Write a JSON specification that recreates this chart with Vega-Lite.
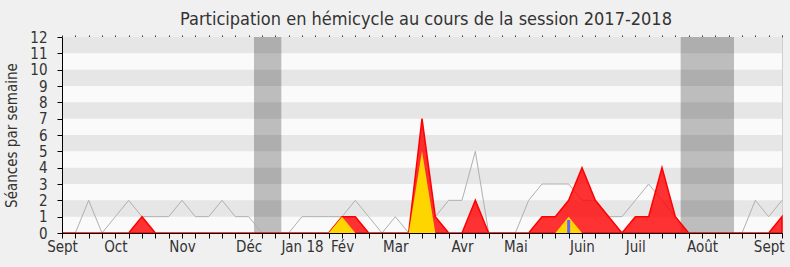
{
  "$schema": "https://vega.github.io/schema/vega-lite/v6.json",
  "width": 720,
  "height": 196,
  "autosize": {"type": "none"},
  "padding": {"left": 62, "top": 37, "right": 8, "bottom": 34},
  "background": "#f0f0f0",
  "title": {"text": "Participation en hémicycle au cours de la session 2017-2018", "font": "DejaVu Sans Condensed, DejaVu Sans", "fontSize": 18, "fontWeight": "normal", "color": "#333333", "anchor": "middle", "offset": 1, "dx": 4},
  "config": {
    "view": {"fill": "#fafafa", "stroke": null},
    "axis": {"labelFont": "DejaVu Sans Condensed, DejaVu Sans", "titleFont": "DejaVu Sans Condensed, DejaVu Sans", "labelColor": "#333333", "titleColor": "#333333", "domainColor": "#000000", "tickColor": "#000000", "grid": false, "zindex": 2}
  },
  "datasets": {
    "semaines": [
      {"s": 0, "presence": 0, "participation": 0, "mediane": 0},
      {"s": 1, "presence": 0, "participation": 0, "mediane": 0},
      {"s": 2, "presence": 0, "participation": 0, "mediane": 2},
      {"s": 3, "presence": 0, "participation": 0, "mediane": 0},
      {"s": 4, "presence": 0, "participation": 0, "mediane": 1},
      {"s": 5, "presence": 0, "participation": 0, "mediane": 2},
      {"s": 6, "presence": 1, "participation": 0, "mediane": 1},
      {"s": 7, "presence": 0, "participation": 0, "mediane": 1},
      {"s": 8, "presence": 0, "participation": 0, "mediane": 1},
      {"s": 9, "presence": 0, "participation": 0, "mediane": 2},
      {"s": 10, "presence": 0, "participation": 0, "mediane": 1},
      {"s": 11, "presence": 0, "participation": 0, "mediane": 1},
      {"s": 12, "presence": 0, "participation": 0, "mediane": 2},
      {"s": 13, "presence": 0, "participation": 0, "mediane": 1},
      {"s": 14, "presence": 0, "participation": 0, "mediane": 1},
      {"s": 15, "presence": 0, "participation": 0, "mediane": 0},
      {"s": 16, "presence": 0, "participation": 0, "mediane": 0},
      {"s": 17, "presence": 0, "participation": 0, "mediane": 0},
      {"s": 18, "presence": 0, "participation": 0, "mediane": 1},
      {"s": 19, "presence": 0, "participation": 0, "mediane": 1},
      {"s": 20, "presence": 0, "participation": 0, "mediane": 1},
      {"s": 21, "presence": 1, "participation": 1, "mediane": 1},
      {"s": 22, "presence": 1, "participation": 0, "mediane": 2},
      {"s": 23, "presence": 0, "participation": 0, "mediane": 1},
      {"s": 24, "presence": 0, "participation": 0, "mediane": 0},
      {"s": 25, "presence": 0, "participation": 0, "mediane": 1},
      {"s": 26, "presence": 0, "participation": 0, "mediane": 0},
      {"s": 27, "presence": 7, "participation": 5, "mediane": 1},
      {"s": 28, "presence": 1, "participation": 0, "mediane": 1},
      {"s": 29, "presence": 0, "participation": 0, "mediane": 2},
      {"s": 30, "presence": 0, "participation": 0, "mediane": 2},
      {"s": 31, "presence": 2, "participation": 0, "mediane": 5},
      {"s": 32, "presence": 0, "participation": 0, "mediane": 0},
      {"s": 33, "presence": 0, "participation": 0, "mediane": 0},
      {"s": 34, "presence": 0, "participation": 0, "mediane": 0},
      {"s": 35, "presence": 0, "participation": 0, "mediane": 2},
      {"s": 36, "presence": 1, "participation": 0, "mediane": 3},
      {"s": 37, "presence": 1, "participation": 0, "mediane": 3},
      {"s": 38, "presence": 2, "participation": 1, "mediane": 3},
      {"s": 39, "presence": 4, "participation": 0, "mediane": 2},
      {"s": 40, "presence": 2, "participation": 0, "mediane": 2},
      {"s": 41, "presence": 1, "participation": 0, "mediane": 1},
      {"s": 42, "presence": 0, "participation": 0, "mediane": 1},
      {"s": 43, "presence": 1, "participation": 0, "mediane": 2},
      {"s": 44, "presence": 1, "participation": 0, "mediane": 3},
      {"s": 45, "presence": 4, "participation": 0, "mediane": 2},
      {"s": 46, "presence": 1, "participation": 0, "mediane": 1},
      {"s": 47, "presence": 0, "participation": 0, "mediane": 0},
      {"s": 48, "presence": 0, "participation": 0, "mediane": 0},
      {"s": 49, "presence": 0, "participation": 0, "mediane": 0},
      {"s": 50, "presence": 0, "participation": 0, "mediane": 0},
      {"s": 51, "presence": 0, "participation": 0, "mediane": 0},
      {"s": 52, "presence": 0, "participation": 0, "mediane": 2},
      {"s": 53, "presence": 0, "participation": 0, "mediane": 1},
      {"s": 54, "presence": 1, "participation": 0, "mediane": 2}
    ],
    "bandes": [
      {"lo": 1, "hi": 2}, {"lo": 3, "hi": 4}, {"lo": 5, "hi": 6},
      {"lo": 7, "hi": 8}, {"lo": 9, "hi": 10}, {"lo": 11, "hi": 12}
    ],
    "vacances": [
      {"debut": 14.4, "fin": 16.45},
      {"debut": 46.4, "fin": 50.4}
    ],
    "questions": [
      {"s": 38, "valeur": 0.8}
    ]
  },
  "resolve": {"axis": {"x": "independent", "y": "independent"}},
  "layer": [
    {
      "data": {"name": "bandes"},
      "mark": {"type": "rect", "color": "#e6e6e6"},
      "encoding": {
        "y": {"field": "lo", "type": "quantitative", "scale": {"domain": [0, 12], "nice": false, "zero": false, "padding": 0},
              "axis": {"orient": "left", "zindex": 3, "domainWidth": 1, "domainColor": "#000000", "values": [0,1,2,3,4,5,6,7,8,9,10,11,12], "tickSize": 5, "labelFontSize": 15, "labelPadding": 10, "title": "Séances par semaine", "titleFontSize": 15, "titleFontWeight": "normal", "titlePadding": 10}},
        "y2": {"field": "hi"}
      }
    },
    {
      "data": {"name": "vacances"},
      "mark": {"type": "rect", "color": "#000000", "opacity": 0.245},
      "encoding": {
        "x": {"field": "debut", "type": "quantitative", "scale": {"domain": [0, 54], "nice": false, "zero": false, "padding": 0}, "axis": null},
        "x2": {"field": "fin"}
      }
    },
    {
      "data": {"name": "semaines"},
      "mark": {"type": "line", "color": "#b0b0b0", "strokeWidth": 1},
      "encoding": {
        "x": {"field": "s", "type": "quantitative",
              "axis": {"orient": "bottom", "zindex": 3, "values": [0,1,2,3,4,5,6,7,8,9,10,11,12,13,14,15,16,17,18,19,20,21,22,23,24,25,26,27,28,29,30,31,32,33,34,35,36,37,38,39,40,41,42,43,44,45,46,47,48,49,50,51,52,53,54], "tickSize": 5, "labelFontSize": 15, "labelPadding": 1, "labelOverlap": false, "labelFlush": false, "labelBound": false, "title": null,
                       "labelExpr": "datum.value == 0 ? 'Sept' : datum.value == 4 ? 'Oct' : datum.value == 9 ? 'Nov' : datum.value == 14 ? 'Déc' : datum.value == 18 ? 'Jan 18' : datum.value == 21 ? 'Fév' : datum.value == 25 ? 'Mar' : datum.value == 30 ? 'Avr' : datum.value == 34 ? 'Mai' : datum.value == 39 ? 'Juin' : datum.value == 43 ? 'Juil' : datum.value == 48 ? 'Août' : datum.value == 53 ? 'Sept' : ''"}},
        "y": {"field": "mediane", "type": "quantitative", "axis": {"orient": "right", "domainColor": "#d0d0d0", "ticks": false, "labels": false, "title": null}}
      }
    },
    {
      "data": {"name": "semaines"},
      "mark": {"type": "area", "fill": "#ff0000", "fillOpacity": 0.8, "stroke": "#ff0000", "strokeWidth": 1.5},
      "encoding": {
        "x": {"field": "s", "type": "quantitative",
              "axis": {"orient": "top", "values": [0,1,2,3,4,5,6,7,8,9,10,11,12,13,14,15,16,17,18,19,20,21,22,23,24,25,26,27,28,29,30,31,32,33,34,35,36,37,38,39,40,41,42,43,44,45,46,47,48,49,50,51,52,53,54], "domain": false, "labels": false, "tickSize": 2, "tickColor": "#333333", "title": null}},
        "y": {"field": "presence", "type": "quantitative", "axis": null}
      }
    },
    {
      "data": {"name": "semaines"},
      "mark": {"type": "area", "fill": "#ffd500"},
      "encoding": {
        "x": {"field": "s", "type": "quantitative", "axis": null},
        "y": {"field": "participation", "type": "quantitative", "axis": null}
      }
    },
    {
      "data": {"name": "questions"},
      "mark": {"type": "bar", "color": "#6464ff", "size": 3},
      "encoding": {
        "x": {"field": "s", "type": "quantitative", "axis": null},
        "y": {"field": "valeur", "type": "quantitative", "axis": null}
      }
    }
  ]
}
